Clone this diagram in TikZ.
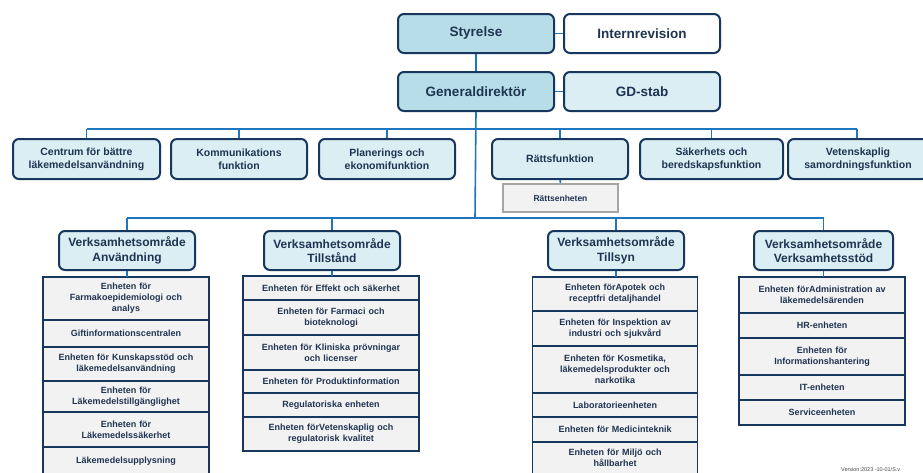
\documentclass[tikz,border=0pt]{standalone}
\usepackage{fontspec}
\setmainfont{Liberation Sans}
\definecolor{navy}{RGB}{23,55,94}
\definecolor{txt}{RGB}{31,52,82}
\definecolor{conn}{RGB}{30,118,190}
\definecolor{lightfill}{RGB}{218,238,243}
\definecolor{topfill}{RGB}{183,222,232}
\definecolor{rowfill}{RGB}{242,242,242}
\definecolor{grayline}{RGB}{166,166,166}
\tikzset{
  topbox/.style={draw=navy, line width=2pt, rounded corners=6pt, fill=topfill, text=txt,
    minimum width=156pt, minimum height=39pt, inner sep=0pt, anchor=north west,
    font=\bfseries\fontsize{13.5}{15}\selectfont},
  funcbox/.style={draw=navy, line width=2pt, rounded corners=6pt, fill=lightfill, text=txt,
    minimum height=40pt, inner sep=0pt, anchor=north west, align=center,
    font=\bfseries\fontsize{10.5}{13}\selectfont},
  headbox/.style={draw=navy, line width=2pt, rounded corners=6pt, fill=lightfill, text=txt,
    minimum width=136pt, minimum height=39pt, inner sep=0pt, anchor=north west, align=center,
    font=\bfseries\fontsize{12}{14.5}\selectfont},
  rowbox/.style={draw=navy, line width=1.5pt, fill=rowfill, text=txt, inner sep=0pt, outer sep=0pt,
    anchor=north, align=center, font=\bfseries\fontsize{9}{11}\selectfont},
  conline/.style={draw=conn, line width=1.6pt},
}
\begin{document}
\begin{tikzpicture}[x=1pt,y=-1pt]
\useasboundingbox (0,0) rectangle (923,472);
\clip (0,0) rectangle (923,472);
\fill[white] (0,0) rectangle (923,472);

% top level
\node[topbox] (sty) at (397,13) {Styrelse};
\node[topbox, fill=white] (int) at (563,13) {Internrevision};
\node[topbox] (gd) at (397,71) {Generaldirektör};
\node[topbox, fill=lightfill] (gds) at (563,71) {GD-stab};

% functions
\node[funcbox, minimum width=147pt] (cen) at (12,138) {Centrum för bättre\\läkemedelsanvändning};
\node[funcbox, minimum width=136pt] (kom) at (170,138) {Kommunikations\\funktion};
\node[funcbox, minimum width=136pt] (pla) at (318,138) {Planerings och\\ekonomifunktion};
\node[funcbox, minimum width=136pt] (rat) at (491,138) {Rättsfunktion};
\node[funcbox, minimum width=143pt] (sak) at (639,138) {Säkerhets och\\beredskapsfunktion};
\node[funcbox, minimum width=140pt] (vet) at (787,138) {Vetenskaplig\\samordningsfunktion};
\node[draw=grayline, line width=2pt, fill=rowfill, text=txt, inner sep=0pt, anchor=north west,
  minimum width=115pt, minimum height=28pt, font=\bfseries\fontsize{8.5}{10}\selectfont]
  (ren) at (502,183) {Rättsenheten};

% verksamhetsområden
\node[headbox] (anv) at (58,230) {Verksamhetsområde\\Användning};
\node[headbox] (til) at (263,230) {Verksamhetsområde\\Tillstånd};
\node[headbox] (tsy) at (547,230) {Verksamhetsområde\\Tillsyn};
\node[headbox, minimum width=139pt] (vst) at (753,230) {Verksamhetsområde\\Verksamhetsstöd};

% lists: Användning
\begin{scope}[every node/.append style={minimum width=166pt, text width=162pt}]
\node[rowbox, minimum height=43pt] (a1) at (126,277) {Enheten för\\Farmakoepidemiologi och\\analys};
\node[rowbox, minimum height=27pt] (a2) at (a1.south) {Giftinformationscentralen};
\node[rowbox, minimum height=34pt] (a3) at (a2.south) {Enheten för Kunskapsstöd och\\läkemedelsanvändning};
\node[rowbox, minimum height=31pt] (a4) at (a3.south) {Enheten för\\Läkemedelstillgänglighet};
\node[rowbox, minimum height=35pt] (a5) at (a4.south) {Enheten för\\Läkemedelssäkerhet};
\node[rowbox, minimum height=28pt] (a6) at (a5.south) {Läkemedelsupplysning};
\end{scope}
% Tillstånd
\begin{scope}[every node/.append style={minimum width=176pt, text width=172pt}]
\node[rowbox, minimum height=24pt] (t1) at (331,276) {Enheten för Effekt och säkerhet};
\node[rowbox, minimum height=35pt] (t2) at (t1.south) {Enheten för Farmaci och\\bioteknologi};
\node[rowbox, minimum height=35pt] (t3) at (t2.south) {Enheten för Kliniska prövningar\\och licenser};
\node[rowbox, minimum height=23pt] (t4) at (t3.south) {Enheten för Produktinformation};
\node[rowbox, minimum height=24pt] (t5) at (t4.south) {Regulatoriska enheten};
\node[rowbox, minimum height=34pt] (t6) at (t5.south) {Enheten förVetenskaplig och\\regulatorisk kvalitet};
\end{scope}
% Tillsyn
\begin{scope}[every node/.append style={minimum width=165pt, text width=161pt}]
\node[rowbox, minimum height=34pt] (s1) at (615,277) {Enheten förApotek och\\receptfri detaljhandel};
\node[rowbox, minimum height=35pt] (s2) at (s1.south) {Enheten för Inspektion av\\industri och sjukvård};
\node[rowbox, minimum height=47pt] (s3) at (s2.south) {Enheten för Kosmetika,\\läkemedelsprodukter och\\narkotika};
\node[rowbox, minimum height=24pt] (s4) at (s3.south) {Laboratorieenheten};
\node[rowbox, minimum height=25pt] (s5) at (s4.south) {Enheten för Medicinteknik};
\node[rowbox, minimum height=32pt] (s6) at (s5.south) {Enheten för Miljö och\\hållbarhet};
\end{scope}
% Verksamhetsstöd
\begin{scope}[every node/.append style={minimum width=166pt, text width=162pt}]
\node[rowbox, minimum height=36pt] (v1) at (822,277) {Enheten förAdministration av\\läkemedelsärenden};
\node[rowbox, minimum height=25pt] (v2) at (v1.south) {HR-enheten};
\node[rowbox, minimum height=37pt] (v3) at (v2.south) {Enheten för\\Informationshantering};
\node[rowbox, minimum height=25pt] (v4) at (v3.south) {IT-enheten};
\node[rowbox, minimum height=25pt] (v5) at (v4.south) {Serviceenheten};
\end{scope}

% connectors
\coordinate (b1) at (475,129);
\coordinate (b2) at (475,218);
\coordinate (b1r) at (857,129);
\draw[conline] (sty) -- (int);
\draw[conline] (gd) -- (gds);
\draw[conline] (sty) -- (gd);
\draw[conline] (gd.south) -- (b2);
\draw[conline] (cen.north |- b1) -- (b1r);
\foreach \n in {cen,kom,pla,rat,sak}
  \draw[conline] (\n.north) -- (\n.north |- b1);
\draw[conline] (b1r) -- (b1r |- vet.north);
\draw[conline] (rat) -- (ren);
\draw[conline] (anv.north |- b2) -- (vst.north |- b2);
\foreach \n/\m in {anv/a1,til/t1,tsy/s1,vst/v1}{
  \draw[conline] (\n.north) -- (\n.north |- b2);
  \draw[conline] (\n.south) -- (\n.south |- \m.north);
}

\node[anchor=base west, text=black!70, font=\fontsize{5.5}{6}\selectfont, inner sep=0pt] (ver) at (841,471) {Version:2023 -10-01/S.v};
\end{tikzpicture}
\end{document}
